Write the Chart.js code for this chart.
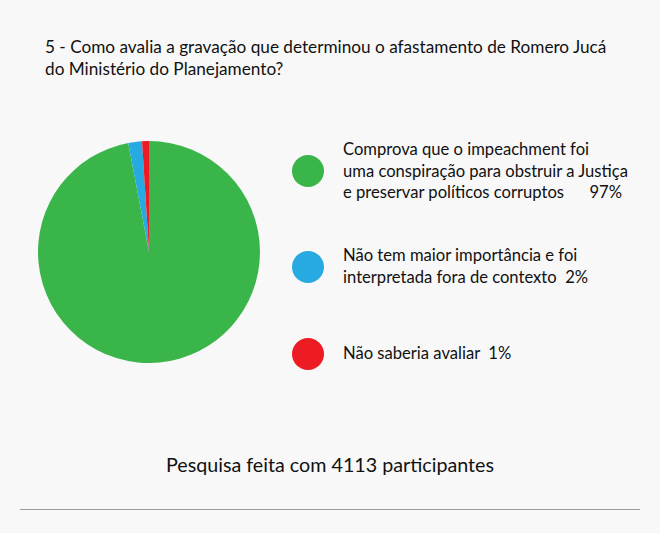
<!DOCTYPE html>
<html>
<head>
<meta charset="utf-8">
<script src="https://cdn.jsdelivr.net/npm/chart.js@4"></script>
<style>
  html, body { margin: 0; padding: 0; }
  body { width: 660px; height: 533px; background: #f8f8f8; position: relative; overflow: hidden;
         font-family: Lato, "Open Sans", sans-serif; color: #111; }
  #title { position: absolute; left: 45px; top: 36px; font-size: 17.2px; line-height: 22px; }
  #pie { position: absolute; left: 38px; top: 141px; width: 222px; height: 222px; }
  #legend { position: absolute; left: 292px; top: 0; }
  .item { position: absolute; left: 0; display: flex; align-items: center; white-space: nowrap; }
  .dot { width: 32px; height: 32px; border-radius: 50%; margin-right: 19px; flex: none; }
  .txt { font-size: 16.6px; line-height: 21.5px; }
  #footer { position: absolute; left: 0; width: 660px; top: 453px; text-align: center; font-size: 19.7px; }
  #rule { position: absolute; left: 20px; width: 620px; top: 509px; height: 1px; background: #9a9a9a; }
</style>
</head>
<body>
<div id="title">5 - Como avalia a gravação que determinou o afastamento de Romero Jucá<br>do Ministério do Planejamento?</div>
<div id="pie"><canvas id="c"></canvas></div>
<div id="legend"></div>
<div id="footer">Pesquisa feita com 4113 participantes</div>
<div id="rule"></div>
<script>
// respostas
const labels = [
  ["Comprova que o impeachment foi", "uma conspiração para obstruir a Justiça", "e preservar políticos corruptos"],
  ["Não tem maior importância e foi", "interpretada fora de contexto"],
  ["Não saberia avaliar"]
];
const values = [97, 2, 1];
const colors = ["#3ab54a", "#27aae1", "#ed1c24"];
const gaps = ["\u00a0\u00a0\u00a0\u00a0\u00a0\u00a0", "\u00a0\u00a0", "\u00a0\u00a0"];
const itemTops = [139, 245, 338];

// legenda em html
const legend = document.getElementById("legend");
labels.forEach((lines, i) => {
  const item = document.createElement("div");
  item.className = "item";
  item.style.top = itemTops[i] + "px";
  const dot = document.createElement("div");
  dot.className = "dot";
  dot.style.background = colors[i];
  const txt = document.createElement("div");
  txt.className = "txt";
  const last = lines.length - 1;
  txt.innerHTML = lines.map((l, j) => j === last ? l + gaps[i] + values[i] + "%" : l).join("<br>");
  item.append(dot, txt);
  legend.append(item);
});

new Chart(document.getElementById("c"), {
  type: "pie",
  data: {
    labels: labels.map((l) => l.join(" ")),
    datasets: [{
      data: values,
      backgroundColor: colors,
      borderWidth: 0
    }]
  },
  options: {
    responsive: true,
    maintainAspectRatio: false,
    animation: false,
    layout: { padding: 0 },
    plugins: {
      legend: { display: false },
      tooltip: { enabled: false }
    }
  }
});
</script>
</body>
</html>
